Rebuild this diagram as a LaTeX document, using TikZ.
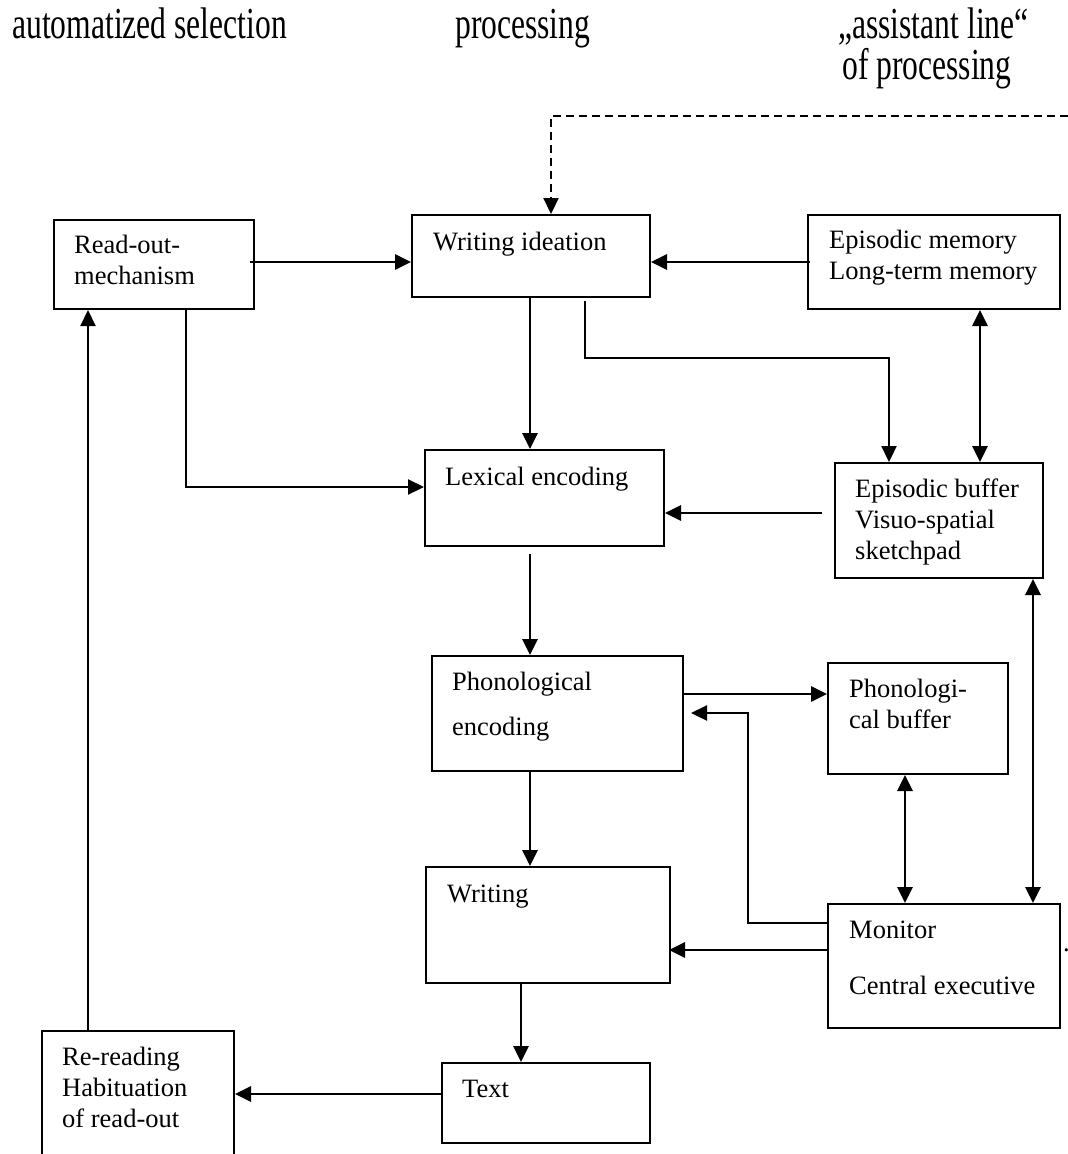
\documentclass[tikz,border=0pt]{standalone}
\usepackage{graphicx}
\usepackage{fontspec}
\setmainfont{Liberation Serif}
\usetikzlibrary{arrows.meta}
\newcommand{\boxfont}{\fontsize{26.5}{31}\selectfont}
\newcommand{\titlefont}{\fontsize{31.6}{31}\selectfont}
\newcommand{\mlines}[1]{\begin{tabular}[t]{@{}l@{}}#1\end{tabular}}
\newcommand{\tall}[1]{\scalebox{1}[1.4]{#1}}
\begin{document}
\begin{tikzpicture}[x=1pt,y=-1pt,
  box/.style={draw, line width=2pt, inner sep=0pt, anchor=north west},
  lbl/.style={inner sep=0pt, anchor=base west, font=\boxfont},
  ttl/.style={inner sep=0pt, anchor=base west, font=\titlefont},
  tip/.tip={Triangle[length=16pt,width=15pt]},
  arr/.style={line width=2.8pt, -tip},
  thinarr/.style={line width=2.2pt, -tip},
  darr/.style={line width=2.8pt, tip-tip},
  dasharr/.style={line width=2.2pt, dash pattern=on 8pt off 5pt, -tip}]
\useasboundingbox (0,0) rectangle (1068,1154);
\clip (0,0) rectangle (1068,1154);

% titles
\node[ttl] (t1) at (12,38) {\tall{automatized selection}};
\node[ttl] (t2) at (455,38) {\tall{processing}};
\node[ttl] (t3) at (838,38) {\tall{„assistant line“}};
\node[ttl] (t4) at (842,79) {\tall{of processing}};

% boxes
\node[box, minimum width=200pt, minimum height=89pt]  (ro) at (53,219) {};
\node[box, minimum width=238pt, minimum height=82pt]  (wi) at (411,214) {};
\node[box, minimum width=252pt, minimum height=94pt]  (em) at (807,214) {};
\node[box, minimum width=239pt, minimum height=96pt]  (le) at (424,449) {};
\node[box, minimum width=208pt, minimum height=115pt] (eb) at (834,462) {};
\node[box, minimum width=251pt, minimum height=115pt] (pe) at (431,655) {};
\node[box, minimum width=180pt, minimum height=111pt] (pb) at (827,662) {};
\node[box, minimum width=244pt, minimum height=116pt] (wr) at (425,866) {};
\node[box, minimum width=232pt, minimum height=124pt] (mo) at (827,903) {};
\node[box, minimum width=208pt, minimum height=80pt]  (tx) at (441,1062) {};
\node[box, minimum width=192pt, minimum height=140pt] (rr) at (41,1030) {};

% labels
\node[lbl] (rol) at (74,253)  {\mlines{Read-out-\\mechanism}};
\node[lbl] (wil) at (433,250) {Writing ideation};
\node[lbl] (eml) at (829,248) {\mlines{Episodic memory\\Long-term memory}};
\node[lbl] (lel) at (445,485) {Lexical encoding};
\node[lbl] (ebl) at (855,497) {\mlines{Episodic buffer\\Visuo-spatial\\sketchpad}};
\node[lbl] (pel) at (452,690) {\mlines{Phonological\\[14pt]encoding}};
\node[lbl] (pbl) at (849,697) {\mlines{Phonologi-\\cal buffer}};
\node[lbl] (wrl) at (447,902) {Writing};
\node[lbl] (mol) at (849,938) {\mlines{Monitor\\[25pt]Central executive}};
\node[lbl] (txl) at (462,1097) {Text};
\node[lbl] (rrl) at (62,1065) {\mlines{Re-reading\\Habituation\\of read-out}};
\node[lbl] (dot) at (1063,951) {.};

% connectors
\coordinate (dr) at (1068,116);
\draw[dasharr] (dr) -| (551,0 |- wi.north);
\draw[arr] ([xshift=-5pt]ro.east |- 0,262) -- (wi.west |- 0,262);
\draw[arr] ([xshift=3pt]em.west |- 0,262) -- (wi.east |- 0,262);
\draw[arr] (530,0 |- wi.south) -- (530,0 |- le.north);
\draw[thinarr] ([yshift=-3pt]585,0 |- wi.south) |- (889,358) -- (889,0 |- eb.north);
\draw[darr] (980,0 |- em.south) -- (980,0 |- eb.north);
\draw[thinarr] (186,0 |- ro.south) |- (le.west |- 0,487);
\draw[arr] ([xshift=-12pt]eb.west |- 0,513) -- (le.east |- 0,513);
\draw[arr] ([yshift=-7pt]530,0 |- le.south) -- (530,0 |- pe.north);
\draw[arr] (pe.east |- 0,694) -- (pb.west |- 0,694);
\draw[thinarr] (mo.west |- 0,923) -| (748,713) -- ([xshift=7pt]pe.east |- 0,713);
\draw[darr] (905,0 |- pb.south) -- (905,0 |- mo.north);
\draw[darr] (1033,0 |- eb.south) -- (1033,0 |- mo.north);
\draw[arr] (530,0 |- pe.south) -- (530,0 |- wr.north);
\draw[arr] (mo.west |- 0,950) -- ([xshift=-2pt]wr.east |- 0,950);
\draw[arr] (521,0 |- wr.south) -- (521,0 |- tx.north);
\draw[arr] (tx.west |- 0,1094) -- (rr.east |- 0,1094);
\draw[thinarr] (88,0 |- rr.north) -- (88,0 |- ro.south);
\end{tikzpicture}
\end{document}
